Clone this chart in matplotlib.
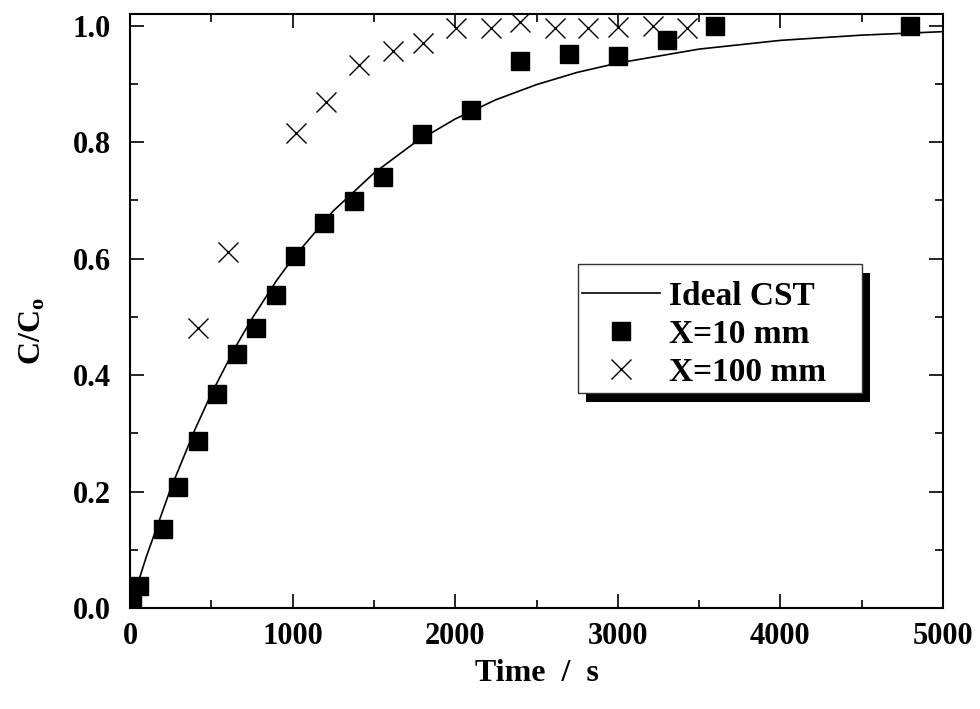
import matplotlib
matplotlib.use("Agg")
import matplotlib.pyplot as plt
import matplotlib.patches as patches
from matplotlib.ticker import MultipleLocator, FormatStrFormatter

plt.rcParams['font.family'] = ['Liberation Serif', 'DejaVu Serif']
plt.rcParams['font.weight'] = 'bold'
plt.rcParams['mathtext.fontset'] = 'custom'
plt.rcParams['mathtext.rm'] = 'Liberation Serif:bold'
plt.rcParams['mathtext.bf'] = 'Liberation Serif:bold'

# ideal CST curve
t_ideal = [0, 100, 250, 400, 500, 650, 750, 900, 1000, 1250, 1500, 1750, 2000, 2250,
           2500, 2750, 3000, 3500, 4000, 4500, 5000]
c_ideal = [0.0, 0.088, 0.205, 0.307, 0.368, 0.449, 0.497, 0.562, 0.600, 0.682, 0.747,
           0.799, 0.840, 0.873, 0.899, 0.920, 0.936, 0.960, 0.975, 0.984, 0.990]

# X = 10 mm
t_10 = [15, 55, 204, 297, 420, 537, 657, 774, 898, 1015, 1193, 1378, 1556, 1796,
        2100, 2400, 2700, 3000, 3300, 3600, 4800]
c_10 = [0.008, 0.038, 0.135, 0.208, 0.287, 0.367, 0.436, 0.481, 0.537, 0.604, 0.661,
        0.699, 0.740, 0.815, 0.856, 0.939, 0.951, 0.948, 0.975, 1.0, 1.0]

# X = 100 mm
t_100 = [418, 603, 1021, 1205, 1408, 1617, 1802, 2005, 2220, 2400, 2614, 2817, 3000,
         3217, 3426]
c_100 = [0.481, 0.611, 0.816, 0.869, 0.932, 0.956, 0.970, 0.997, 0.997, 1.006, 0.997,
         0.997, 0.998, 1.0, 0.997]

fig = plt.figure(figsize=(9.8, 7.09), dpi=100)
ax = fig.add_axes([0.1327, 0.1425, 0.8295, 0.8375])

ax.plot(t_ideal, c_ideal, color='black', lw=1.2, label='Ideal CST')
ax.plot(t_10, c_10, ls='none', marker='s', ms=12.5, color='black', label='X=10 mm')
ax.plot(t_100, c_100, ls='none', marker='x', ms=15, mew=1.0, color='black',
        label='X=100 mm')

ax.set_xlim(0, 5000)
ax.set_ylim(0, 1.02)
ax.xaxis.set_major_locator(MultipleLocator(1000))
ax.xaxis.set_minor_locator(MultipleLocator(500))
ax.yaxis.set_major_locator(MultipleLocator(0.2))
ax.yaxis.set_minor_locator(MultipleLocator(0.1))
ax.yaxis.set_major_formatter(FormatStrFormatter('%.1f'))

ax.tick_params(which='both', direction='in', top=True, right=True, width=1.2,
               labelsize=22)
ax.tick_params(which='major', length=10)
ax.tick_params(which='minor', length=6)
ax.tick_params(axis='y', pad=14)
ax.tick_params(axis='x', pad=10)
for lab in ax.get_xticklabels() + ax.get_yticklabels():
    lab.set_fontweight('bold')
for s in ax.spines.values():
    s.set_linewidth(1.5)

ax.set_xlabel('Time  /  s', fontsize=23, fontweight='bold', labelpad=6)
ax.set_ylabel(r'$\mathbf{C/C_o}$', fontsize=23)
ax.yaxis.set_label_coords(-0.101, 0.466)

# legend box with a black drop shadow, drawn as plain rectangles
box = (0.551, 0.362, 0.349, 0.217)
ax.add_patch(patches.Rectangle((box[0] + 0.0098, box[1] - 0.0152), box[2], box[3],
                               transform=ax.transAxes, facecolor='black',
                               edgecolor='none', zorder=5, clip_on=False))
ax.add_patch(patches.Rectangle((box[0], box[1]), box[2], box[3],
                               transform=ax.transAxes, facecolor='white',
                               edgecolor='#333333', lw=1.0, zorder=5.5, clip_on=False))

leg = ax.legend(loc='upper left', bbox_to_anchor=(0.556, 0.551), fontsize=24,
                frameon=False, handlelength=2.35, handletextpad=0.25, borderpad=0,
                labelspacing=0.21, borderaxespad=0)
for txt in leg.get_texts():
    txt.set_fontweight('bold')
leg.set_zorder(6)

fig.savefig('out.png', dpi=100)
